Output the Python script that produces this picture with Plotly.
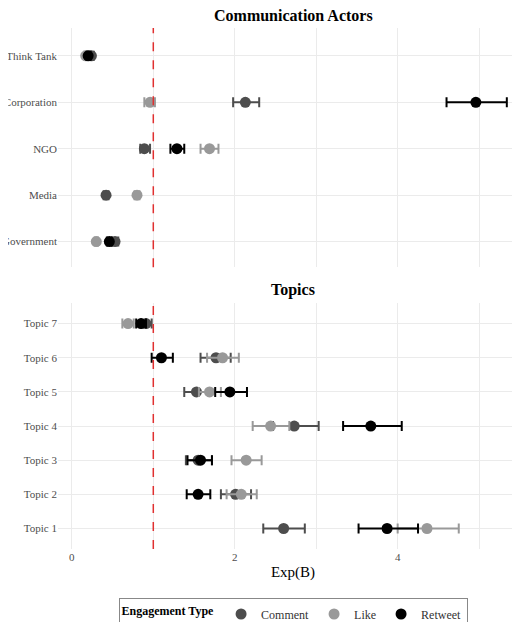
import plotly.graph_objects as go
from plotly.subplots import make_subplots

actors = ["Government", "Media", "NGO", "Corporation", "Think Tank"]
actor_comment = [0.53, 0.42, 0.89, 2.13, 0.24]
actor_comment_lo = [0.49, 0.39, 0.84, 1.98, 0.21]
actor_comment_hi = [0.57, 0.45, 0.96, 2.30, 0.27]
actor_like = [0.30, 0.80, 1.69, 0.96, 0.17]
actor_like_lo = [0.28, 0.77, 1.58, 0.89, 0.15]
actor_like_hi = [0.32, 0.83, 1.80, 1.02, 0.19]
actor_rt = [0.46, None, 1.29, 4.96, 0.20]
actor_rt_lo = [0.43, None, 1.21, 4.60, 0.18]
actor_rt_hi = [0.49, None, 1.38, 5.34, 0.23]

topics = ["Topic 1", "Topic 2", "Topic 3", "Topic 4", "Topic 5", "Topic 6", "Topic 7"]
topic_comment = [2.60, 2.01, 1.55, 2.73, 1.53, 1.77, 0.91]
topic_comment_lo = [2.35, 1.83, 1.40, 2.47, 1.38, 1.58, 0.85]
topic_comment_hi = [2.86, 2.20, 1.72, 3.03, 1.70, 1.95, 0.98]
topic_like = [4.36, 2.08, 2.14, 2.44, 1.69, 1.85, 0.69]
topic_like_lo = [4.00, 1.90, 1.96, 2.22, 1.56, 1.66, 0.62]
topic_like_hi = [4.75, 2.27, 2.33, 2.67, 1.83, 2.05, 0.76]
topic_rt = [3.87, 1.55, 1.58, 3.67, 1.94, 1.10, 0.85]
topic_rt_lo = [3.52, 1.41, 1.42, 3.33, 1.76, 0.98, 0.79]
topic_rt_hi = [4.25, 1.70, 1.72, 4.05, 2.15, 1.24, 0.91]

series = [("Comment", "#4d4d4d"), ("Like", "#999999"), ("Retweet", "#000000")]
actor_data = [(actor_comment, actor_comment_lo, actor_comment_hi),
              (actor_like, actor_like_lo, actor_like_hi),
              (actor_rt, actor_rt_lo, actor_rt_hi)]
topic_data = [(topic_comment, topic_comment_lo, topic_comment_hi),
              (topic_like, topic_like_lo, topic_like_hi),
              (topic_rt, topic_rt_lo, topic_rt_hi)]

fig = make_subplots(rows=2, cols=1)

def add(row, cats, data, show):
    for (name, col), (v, lo, hi) in zip(series, data):
        plus = [None if a is None else h - a for a, h in zip(v, hi)]
        minus = [None if a is None else a - l for a, l in zip(v, lo)]
        fig.add_trace(go.Scatter(
            x=v, y=cats, mode="markers", name=name, legendgroup=name, showlegend=show,
            marker=dict(color=col, size=11),
            error_x=dict(type="data", array=plus, arrayminus=minus, color=col, thickness=2, width=5),
        ), row=row, col=1)

add(1, actors, actor_data, False)
add(2, topics, topic_data, True)

for r in (1, 2):
    fig.add_vline(x=1, line=dict(color="#e03030", dash="dash", width=1.5), row=r, col=1)

axfont = dict(family="Liberation Serif", size=11, color="#4d4d4d")
xcommon = dict(range=[-0.17, 5.6], tickvals=[0, 1, 2, 3, 4, 5], showgrid=True,
               gridcolor="#ebebeb", zeroline=False, showline=False, tickfont=axfont)
ycommon = dict(gridcolor="#ebebeb", tickfont=axfont, showline=False, zeroline=False,
               automargin=False, categoryorder="array")
fig.update_layout(
    xaxis=dict(domain=[0, 1], anchor="y", ticktext=["", "", "", "", "", ""], **xcommon),
    xaxis2=dict(domain=[0, 1], anchor="y2", ticktext=["0", "", "2", "", "4", ""],
                title=dict(text="Exp(B)", font=dict(family="Liberation Serif", size=15, color="black"), standoff=4),
                **xcommon),
    yaxis=dict(domain=[0.541, 1], categoryarray=actors, range=[-0.55, 4.6], **ycommon),
    yaxis2=dict(domain=[0, 0.472], categoryarray=topics, range=[-0.6, 6.6], **ycommon),
    plot_bgcolor="white", paper_bgcolor="white",
    width=520, height=622,
    margin=dict(l=50, r=0, t=20, b=62),
    font=dict(family="Liberation Serif"),
    legend=dict(orientation="h", x=0.5, xanchor="center", y=-0.095, yanchor="top",
                title=dict(text="<b>Engagement Type</b>", side="left", font=dict(size=12, color="black")),
                font=dict(size=12, color="#333"), bordercolor="#888", borderwidth=1,
                itemwidth=30, tracegroupgap=0),
    annotations=[
        dict(text="<b>Communication Actors</b>", x=0.5, y=1, xref="paper", yref="paper",
             xanchor="center", yanchor="bottom", yshift=2, showarrow=False,
             font=dict(family="Liberation Serif", size=16, color="black")),
        dict(text="<b>Topics</b>", x=0.5, y=0.472, xref="paper", yref="paper",
             xanchor="center", yanchor="bottom", yshift=2, showarrow=False,
             font=dict(family="Liberation Serif", size=16, color="black")),
    ],
)
fig.write_html("out.html")
